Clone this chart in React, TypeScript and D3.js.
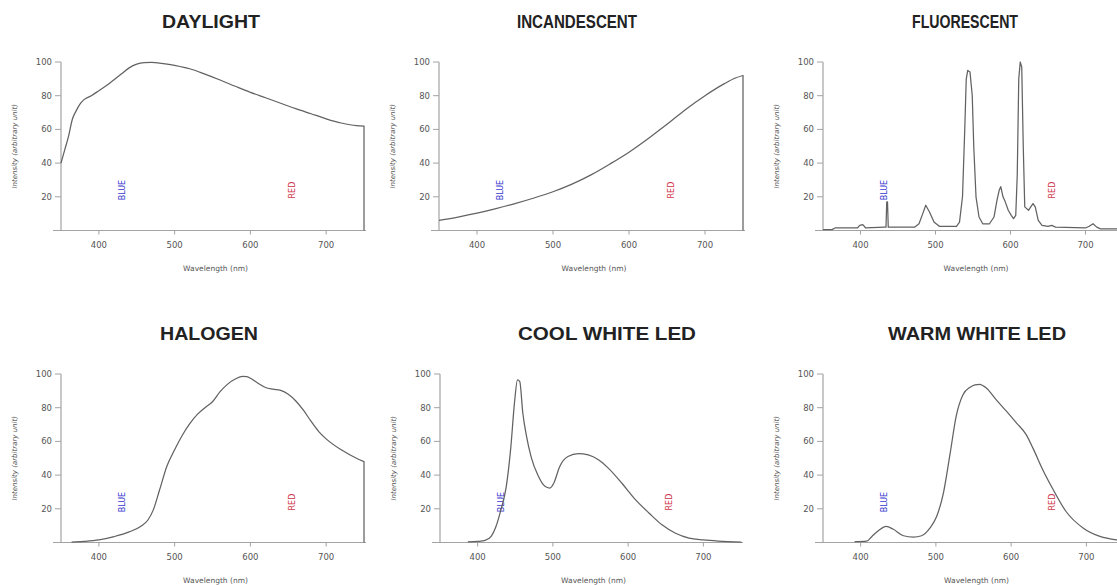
import React, { useRef, useEffect } from 'react';
import * as d3 from 'd3';

const TICKS_X = [400, 500, 600, 700];
const TICKS_Y = [20, 40, 60, 80, 100];

const DAYLIGHT_NM = [350, 355, 360, 365, 370, 375, 380, 390, 400, 410, 420, 430, 440, 450, 460, 470, 480, 490, 500, 520, 540, 560, 580, 600, 620, 640, 660, 680, 700, 720, 740, 750];
const DAYLIGHT_VAL = [40, 48, 56, 66, 71, 75, 77.5, 80, 83, 86, 89.5, 93, 96.5, 98.7, 99.6, 99.8, 99.4, 98.8, 98, 96, 92.8, 89.3, 85.6, 82, 78.8, 75.5, 72.3, 69.3, 66.3, 63.8, 62.2, 62];

const INCAND_NM = [350, 375, 400, 425, 450, 475, 500, 525, 550, 575, 600, 625, 650, 675, 700, 725, 740, 750];
const INCAND_VAL = [6, 8, 10.3, 13, 16, 19.3, 23, 27.5, 33, 39.5, 46.5, 54.5, 63, 72, 80, 87, 90.5, 92];

const FLUO_NM = [350, 362, 366, 396, 399, 403, 407, 432, 434, 435, 436, 437, 440, 472, 478, 483, 487, 492, 498, 505, 528, 532, 536, 539, 541, 543, 546, 549, 551, 554, 558, 563, 572, 578, 582, 585, 587, 590, 593, 597, 601, 604, 607, 609, 611, 613, 615, 617, 619, 624, 627, 630, 633, 637, 642, 650, 655, 660, 700, 705, 710, 715, 720, 750];
const FLUO_VAL = [0.5, 0.5, 1.5, 1.5, 3, 3.5, 1.5, 2, 2, 17, 17, 2, 2, 2, 4, 10, 15, 11, 5, 2.5, 2.5, 5, 20, 60, 90, 95, 94, 80, 50, 20, 8, 4, 4, 8, 18, 24, 26, 20, 17, 12, 9, 7, 9, 33, 90, 100, 97, 50, 14, 12, 14, 16, 14, 6, 3, 2.5, 3, 2, 1.5, 2.5, 4, 2, 1, 1];

const HALOGEN_NM = [364, 380, 400, 420, 440, 455, 465, 472, 480, 490, 500, 510, 520, 530, 540, 550, 560, 570, 580, 590, 595, 600, 610, 620, 630, 640, 650, 660, 670, 680, 690, 700, 720, 740, 750];
const HALOGEN_VAL = [0.2, 0.6, 1.5, 3.5, 6.3, 9.5, 13.5, 19.5, 31, 45.5, 55, 63.5, 70.5, 76, 80, 83.5, 89.5, 94, 97, 98.6, 98.5, 97.5, 94.5, 92, 91, 90.3, 88, 84, 78.5, 72, 66, 61.5, 55, 50, 48];

const COOL_NM = [387, 400, 410, 418, 424, 431, 438, 444, 449, 453, 456, 460, 465, 471, 480, 489, 496, 501, 509, 520, 534, 547, 561, 574, 592, 610, 628, 645, 663, 681, 700, 720, 750];
const COOL_VAL = [0.3, 0.6, 1.2, 3.6, 9, 19.5, 33, 56, 83, 96.5, 95.5, 77, 63, 51, 40, 33.5, 32.3, 35, 45, 51, 52.7, 52, 49, 44, 35, 25.3, 17.4, 10.5, 5.5, 2.6, 1.5, 0.8, 0.2];

const WARM_NM = [392, 408, 415, 424, 434, 443, 457, 470, 481, 492, 501, 510, 519, 527, 536, 545, 552, 558, 567, 580, 594, 607, 620, 629, 642, 656, 673, 696, 718, 740, 750];
const WARM_VAL = [0.5, 0.8, 3.6, 7.1, 9.5, 8, 4, 3.2, 4, 8.5, 15.4, 29.3, 53, 75, 87.7, 92, 93.5, 93.9, 91.7, 84.8, 77.8, 71, 64, 56, 43.2, 31.3, 18.4, 8.5, 3.6, 1.6, 1.2];

const AXIS_COLOR = '#a3a3a3';
const LINE_COLOR = '#626262';
const TEXT_COLOR = '#555';

const Panel = ({ title, titleX, titleW, nm, values, left, width, top, smooth }) => {
  const ref = useRef(null);

  useEffect(() => {
    const g = d3.select(ref.current);
    g.selectAll('*').remove();

    const x = d3.scaleLinear().domain([350, 750]).range([left, left + width]);
    const y = d3.scaleLinear().domain([0, 100]).range([top + 168.5, top]);
    const base = y(0);

    // title, squeezed to the width it has in the original
    g.append('text')
      .attr('x', titleX - titleW / 2)
      .attr('y', top - 34)
      .attr('textLength', titleW)
      .attr('lengthAdjust', 'spacingAndGlyphs')
      .attr('font-family', 'Liberation Sans, Arial, sans-serif')
      .attr('font-weight', 'bold')
      .attr('font-size', 18.5)
      .attr('fill', '#222')
      .text(title);

    // x axis
    g.append('line')
      .attr('x1', left - 8).attr('x2', left + width + 2)
      .attr('y1', base).attr('y2', base)
      .attr('stroke', AXIS_COLOR).attr('stroke-width', 1.2);
    TICKS_X.forEach(t => {
      g.append('line')
        .attr('x1', x(t)).attr('x2', x(t))
        .attr('y1', base).attr('y2', base + 4)
        .attr('stroke', AXIS_COLOR).attr('stroke-width', 1);
      g.append('text')
        .attr('x', x(t)).attr('y', base + 17)
        .attr('text-anchor', 'middle')
        .attr('font-family', 'DejaVu Sans, sans-serif')
        .attr('font-size', 8.5)
        .attr('fill', TEXT_COLOR)
        .text(t);
    });

    // y axis
    g.append('line')
      .attr('x1', left).attr('x2', left)
      .attr('y1', y(0)).attr('y2', y(100))
      .attr('stroke', AXIS_COLOR).attr('stroke-width', 1.2);
    TICKS_Y.forEach(t => {
      g.append('line')
        .attr('x1', left - 6).attr('x2', left)
        .attr('y1', y(t)).attr('y2', y(t))
        .attr('stroke', AXIS_COLOR).attr('stroke-width', 1);
      g.append('text')
        .attr('x', left - 9).attr('y', y(t))
        .attr('dy', '0.35em')
        .attr('text-anchor', 'end')
        .attr('font-family', 'DejaVu Sans, sans-serif')
        .attr('font-size', 8.5)
        .attr('fill', TEXT_COLOR)
        .text(t);
    });

    g.append('text')
      .attr('transform', `translate(${left - 46},${(y(0) + y(100)) / 2}) rotate(-90)`)
      .attr('text-anchor', 'middle')
      .attr('dy', '0.35em')
      .attr('font-family', 'DejaVu Sans, sans-serif')
      .attr('font-style', 'italic')
      .attr('font-size', 7)
      .attr('fill', TEXT_COLOR)
      .text('Intensity (arbitrary unit)');

    g.append('text')
      .attr('x', left + width / 2 + 3).attr('y', base + 40)
      .attr('text-anchor', 'middle')
      .attr('font-family', 'DejaVu Sans, sans-serif')
      .attr('font-size', 7.5)
      .attr('fill', TEXT_COLOR)
      .text('Wavelength (nm)');

    // colour markers
    [['BLUE', 431, '#3b3bd0'], ['RED', 655, '#d0344a']].forEach(([label, w, c]) => {
      g.append('text')
        .attr('transform', `translate(${x(w)},${y(24)}) rotate(-90)`)
        .attr('text-anchor', 'middle')
        .attr('dy', '0.35em')
        .attr('font-family', 'DejaVu Sans, sans-serif')
        .attr('font-size', 8)
        .attr('fill', c)
        .text(label);
    });

    // spectrum, closed down to the baseline on the right
    const pts = nm.map((w, i) => [w, values[i]]);
    const line = d3.line()
      .x(d => x(d[0]))
      .y(d => y(d[1]))
      .curve(smooth ? d3.curveMonotoneX : d3.curveLinear);
    const last = pts[pts.length - 1];
    g.append('path')
      .attr('d', line(pts) + `L${x(last[0])},${base}`)
      .attr('fill', 'none')
      .attr('stroke', LINE_COLOR)
      .attr('stroke-width', 1.25)
      .attr('stroke-linejoin', 'round');
  }, [title, titleX, titleW, nm, values, left, width, top, smooth]);

  return <g ref={ref} />;
};

export default function App() {
  return (
    <svg width={1117} height={585} style={{ position: 'absolute', left: 0, top: 0, background: '#fff' }}>
      <Panel title="DAYLIGHT" titleX={211} titleW={98} nm={DAYLIGHT_NM} values={DAYLIGHT_VAL} left={61} width={303} top={62} smooth />
      <Panel title="INCANDESCENT" titleX={577} titleW={120} nm={INCAND_NM} values={INCAND_VAL} left={439} width={304} top={62} smooth />
      <Panel title="FLUORESCENT" titleX={965} titleW={106} nm={FLUO_NM} values={FLUO_VAL} left={823} width={300} top={62} smooth={false} />
      <Panel title="HALOGEN" titleX={209} titleW={98} nm={HALOGEN_NM} values={HALOGEN_VAL} left={61} width={303} top={374} smooth />
      <Panel title="COOL WHITE LED" titleX={607} titleW={178} nm={COOL_NM} values={COOL_VAL} left={440} width={301} top={374} smooth />
      <Panel title="WARM WHITE LED" titleX={977} titleW={178} nm={WARM_NM} values={WARM_VAL} left={823} width={301} top={374} smooth />
    </svg>
  );
}
